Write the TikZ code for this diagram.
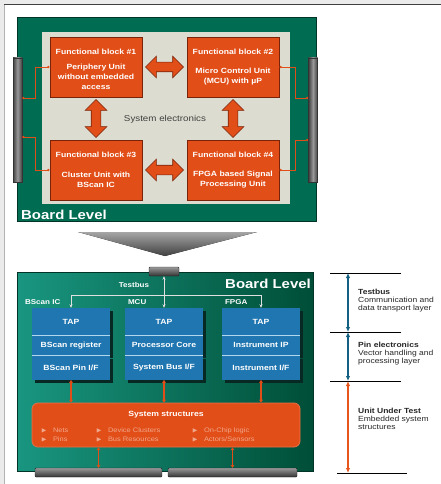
\documentclass[tikz,border=0pt]{standalone}
\usepackage{fontspec}
\setmainfont{Liberation Sans}[FakeStretch=1.15]
\usepackage{amssymb}
\usepackage{tikz}
\usetikzlibrary{positioning,arrows.meta,calc,shapes.arrows,shadows}
\definecolor{boardT}{RGB}{0,108,82}
\definecolor{boardL}{RGB}{25,150,128}
\definecolor{boardR}{RGB}{0,78,55}
\definecolor{bordD}{RGB}{0,52,38}
\definecolor{innerG}{RGB}{220,220,208}
\definecolor{orgB}{RGB}{226,78,24}
\definecolor{orgD}{RGB}{120,35,10}
\definecolor{blueB}{RGB}{32,118,176}
\definecolor{blueSep}{RGB}{175,215,238}
\definecolor{shadowC}{RGB}{8,40,36}
\definecolor{legB}{RGB}{20,96,130}
\definecolor{legO}{RGB}{232,86,30}

\begin{document}
\begin{tikzpicture}[x=1pt,y=-1pt,
  fblock/.style={draw=orgD,fill=orgB,line width=0.8pt,minimum width=92pt,minimum height=60pt,inner sep=0pt},
  ftext/.style={text=white,font=\fontsize{7.5}{10}\selectfont\bfseries,align=center,inner sep=0pt},
  fatarrow/.style={double arrow,draw=orgD,fill=orgB,line width=0.6pt,inner xsep=0pt,inner ysep=4.5pt,
    double arrow head extend=6pt,minimum height=38pt},
  sidebar/.style={draw=black!80,left color=black!75,right color=black!75,middle color=black!40,
    minimum width=9pt,minimum height=124pt,inner sep=0pt},
  conbar/.style={draw=black!85,top color=black!40,bottom color=black!80,rounded corners=1pt,inner sep=0pt},
  wire/.style={draw=orgB,line width=0.7pt,{Circle[length=2.4pt]}-{Circle[length=2.4pt]}},
  boardlbl/.style={text=white,font=\fontsize{13}{13}\selectfont\bfseries,inner sep=0pt},
  collbl/.style={text=white,font=\fontsize{7}{8}\selectfont\bfseries,inner sep=0pt},
  tapbox/.style={fill=blueB,minimum width=78pt,inner sep=0pt,text=white,
    font=\fontsize{7.5}{9}\selectfont\bfseries,
    drop shadow={shadow xshift=3pt,shadow yshift=-3pt,fill=shadowC,opacity=1}},
  sepline/.style={draw=blueSep,line width=1.2pt},
  bus/.style={draw=black!12,line width=0.8pt},
  oarrow/.style={draw=orgB,line width=1.2pt,{Stealth[length=3pt,width=4pt]}-{Stealth[length=3pt,width=4pt]}},
  sysbox/.style={draw=orgB!80!white,fill=orgB,line width=0.8pt,rounded corners=6pt,
    minimum width=268pt,minimum height=44pt,inner sep=0pt},
  bullet/.style={text=orgB!50!white,font=\fontsize{6.5}{7}\selectfont,anchor=base west,inner sep=0pt},
  legline/.style={draw=black,line width=1pt},
  legarrow/.style={line width=1.2pt,{Latex[length=5pt,width=4.5pt]}-{Latex[length=5pt,width=4.5pt]}},
  legtxt/.style={anchor=north west,align=left,inner sep=0pt,text=black!85,font=\fontsize{7.4}{8}\selectfont}]
  \useasboundingbox (0,0) rectangle (441,484);
  % frame of the page
  \fill[black!8] (0,0) rectangle (441,5);
  \fill[black!8] (0,0) rectangle (4,484);
  \draw[black!30] (4,484) -- (4,5);
  \draw[black!75,line width=1pt] (4,5) -- (441,5);

  % ---- board level, functional view
  \draw[draw=bordD,fill=boardT,line width=1pt] (17,18) rectangle (316,221);
  \fill[innerG] (42,32) rectangle (290,204);
  \node[boardlbl,anchor=base west] (lvlTop) at (21,219) {Board Level};
  \node[sidebar] (conL) at (17.5,120) {};
  \node[sidebar] (conR) at (313,120) {};
  \foreach \n/\x/\y/\txt in {1/96/67/{Periphery Unit\\without embedded\\access},
      2/233/67/{Micro Control Unit\\(MCU) with µP},
      3/96/170/{Cluster Unit with\\BScan IC},
      4/233/170/{FPGA based Signal\\Processing Unit}} {
    \node[fblock] (b\n) at (\x,\y) {};
    \node[ftext] (b\n t) at ([yshift=-15pt]b\n.north) {Functional block \#\n};
    \node[ftext] (b\n x) at ([yshift=-10pt]b\n.center) {\txt};
  }
  \node[text=black!75,font=\fontsize{8.5}{10}\selectfont] (sysel) at (165,119) {System electronics};
  \node[fatarrow] (a12) at ($(b1.east)!.5!(b2.west)$) {};
  \node[fatarrow] (a34) at ($(b3.east)!.5!(b4.west)$) {};
  \node[fatarrow,rotate=90] (a13) at ($(b1.south)!.5!(b3.north)$) {};
  \node[fatarrow,rotate=90] (a24) at ($(b2.south)!.5!(b4.north)$) {};
  % wires to the edge connectors
  \coordinate (kL1) at (35,98);
  \coordinate (kL3) at (35,137);
  \coordinate (kR2) at (295,98);
  \coordinate (kR4) at (295,140);
  \draw[wire] (b1.west) -| (kL1) -- (kL1 -| conL.east);
  \draw[wire] (b3.west) -| (kL3) -- (kL3 -| conL.east);
  \draw[wire] (b2.east) -| (kR2) -- (kR2 -| conR.west);
  \draw[wire] (b4.east) -| (kR4) -- (kR4 -| conR.west);

  % down arrow
  \fill[top color=black!35,bottom color=black!75] (78,232) -- (257,232) -- (165,256) -- cycle;

  % ---- board level, test view
  \draw[draw=bordD,line width=1pt,left color=boardL,right color=boardR] (17,272) rectangle (313,471);
  \node[conbar,minimum width=30pt,minimum height=9pt] (tbc) at (164,271.5) {};
  \node[boardlbl,anchor=base east] (lvlBot) at (311,288) {Board Level};
  \node[collbl] (tblbl) at (134,285) {Testbus};
  \foreach \n/\x/\ttl/\dx/\mid/\low in {bs/71/{BScan IC}/-7/{BScan register}/{BScan Pin I/F},
      mcu/164/MCU/3/{Processor Core}/{System Bus I/F},
      fp/261/FPGA/3/{Instrument IP}/{Instrument I/F}} {
    \node[tapbox,minimum height=27pt] (\n tap) at (\x,321.5) {TAP};
    \node[tapbox,minimum height=20pt,below=0pt of \n tap] (\n mid) {\mid};
    \node[tapbox,minimum height=24pt,below=0pt of \n mid] (\n low) {\low};
    \draw[sepline] (\n mid.north west) -- (\n mid.north east);
    \draw[sepline] (\n low.north west) -- (\n low.north east);
    \node[collbl,anchor=base west] (\n lbl) at ([xshift=\dx pt,yshift=3pt]\n tap.north west) {\ttl};
  }
  % testbus
  \coordinate (jn) at (164,295);
  \draw[bus,{Stealth[length=3.5pt,width=3pt]}-{Stealth[length=3.5pt,width=3pt]}] (tbc.south) -- (mcutap.north);
  \draw[bus,-{Stealth[length=3.5pt,width=3pt]}] (jn) -| (bstap.north);
  \draw[bus,-{Stealth[length=3.5pt,width=3pt]}] (jn) -| (fptap.north);

  % system structures
  \node[sysbox] (sys) at (166,425) {};
  \node[text=white,font=\fontsize{7.5}{9}\selectfont\bfseries] (systl) at ([yshift=-12pt]sys.north) {System structures};
  \foreach \bx/\by/\t in {41/432/Nets, 41/441/Pins, 96/432/{Device Clusters}, 96/441/{Bus Resources},
      192/432/{On-Chip logic}, 192/441/{Actors/Sensors}} {
    \node[bullet] at (\bx,\by) {$\blacktriangleright$\hspace{6pt}\t};
  }
  \foreach \n in {bs,mcu,fp} {
    \draw[oarrow] (\n low.south) -- (\n low.south |- sys.north);
  }
  \node[conbar,minimum width=127pt,minimum height=9pt] (barA) at (98.5,472.5) {};
  \node[conbar,minimum width=129pt,minimum height=9pt] (barB) at (232.5,472.5) {};
  \draw[oarrow] (barA.north |- sys.south) -- (barA.north);
  \draw[oarrow] (barB.north |- sys.south) -- (barB.north);

  % ---- legend
  \draw[legline] (330,273) -- (401,273);
  \draw[legline] (330,332) -- (401,332);
  \draw[legline] (330,381) -- (401,381);
  \draw[legline] (337,473) -- (407,473);
  \coordinate (m1) at (348,273);
  \coordinate (m2) at (348,332);
  \coordinate (m3) at (348,381);
  \coordinate (m4) at (348,473);
  \draw[legarrow,draw=legB,fill=legB] (m1) -- (m2);
  \draw[legarrow,draw=legB,fill=legB] (m2) -- (m3);
  \draw[legarrow,draw=legO,fill=legO] (m3) -- (m4);
  \node[legtxt] (lgA) at (358,289) {\textbf{Testbus}\\Communication and\\data transport layer};
  \node[legtxt] (lgB) at (358,342) {\textbf{Pin electronics}\\Vector handling and\\processing layer};
  \node[legtxt] (lgC) at (358,408) {\textbf{Unit Under Test}\\Embedded system\\structures};
\end{tikzpicture}
\end{document}
